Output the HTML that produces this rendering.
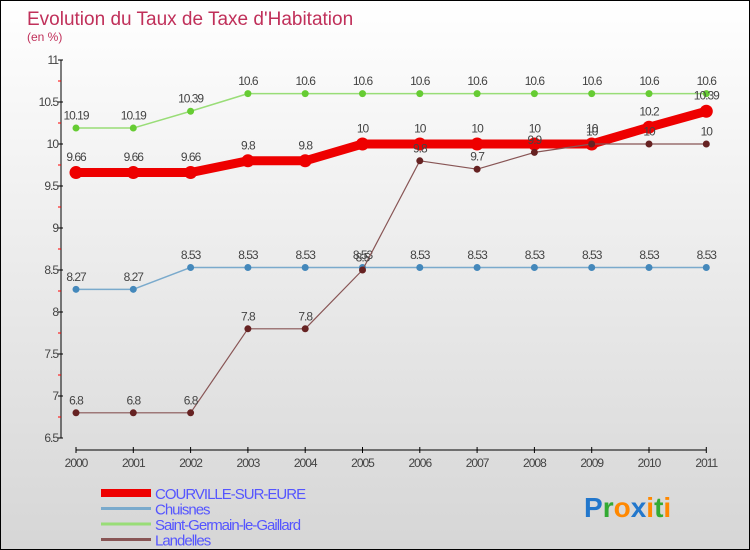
<!DOCTYPE html>
<html><head><meta charset="utf-8"><style>
body{margin:0}
#c{width:750px;height:550px;position:relative;box-sizing:border-box;border:1px solid #000;background:linear-gradient(#fff,#d6d6d6);font-family:"Liberation Sans",sans-serif;overflow:hidden}
</style></head><body>
<div id="c">
<svg id="s" width="748" height="548"></svg>
</div>
<script>
const years=[2000,2001,2002,2003,2004,2005,2006,2007,2008,2009,2010,2011];
const courville=[9.66,9.66,9.66,9.8,9.8,10,10,10,10,10,10.2,10.39];
const chuisnes=[8.27,8.27,8.53,8.53,8.53,8.53,8.53,8.53,8.53,8.53,8.53,8.53];
const stgermain=[10.19,10.19,10.39,10.6,10.6,10.6,10.6,10.6,10.6,10.6,10.6,10.6];
const landelles=[6.8,6.8,6.8,7.8,7.8,8.5,9.8,9.7,9.9,10,10,10];
const yTicks=[6.5,7,7.5,8,8.5,9,9.5,10,10.5,11];
const NS="http://www.w3.org/2000/svg";
const s=document.getElementById('s');
function X(i){return 75+i*57.3;}
function Y(v){return 59+(11-v)*84;}
function el(t,a,p){const e=document.createElementNS(NS,t);for(const k in a)e.setAttribute(k,a[k]);(p||s).appendChild(e);return e;}
let t=el('text',{x:26,y:24,'font-size':19,fill:'#c0305a'});t.textContent="Evolution du Taux de Taxe d'Habitation";

t=el('text',{x:26,y:40,'font-size':12,fill:'#c0305a'});t.textContent="(en %)";

// axes
let ax=el('g',{});
el('line',{x1:60,y1:Y(11),x2:60,y2:Y(6.5),stroke:'#000'},ax);
yTicks.forEach((v,i)=>{el('line',{x1:57,y1:Y(v),x2:62,y2:Y(v),stroke:'#000'},ax);
 if(i<yTicks.length-1)el('line',{x1:57,y1:Y(v+0.25),x2:60,y2:Y(v+0.25),stroke:'red'},ax);
 const tt=el('text',{x:57,y:Y(v)+4,'font-size':12,fill:'#444','text-anchor':'end','letter-spacing':'-1'},ax);tt.textContent=v;});
let xa=el('g',{});
el('line',{x1:X(0),y1:449,x2:X(11),y2:449,stroke:'#000'},xa);
years.forEach((y,i)=>{el('line',{x1:X(i),y1:446,x2:X(i),y2:452,stroke:'#000'},xa);
 const tt=el('text',{x:X(i),y:466,'font-size':12,fill:'#444','text-anchor':'middle','letter-spacing':'-1'},xa);tt.textContent=y;});
function series(data,color,w,r,name,dot){
 const g=el('g',{});
 el('polyline',{points:data.map((v,i)=>X(i)+','+Y(v)).join(' '),fill:'none',stroke:color,'stroke-width':w,'stroke-linejoin':'round'},g);
 data.forEach((v,i)=>{const c=el('circle',{cx:X(i),cy:Y(v),r:r,fill:dot},g);
  
  const tt=el('text',{x:X(i),y:Y(v)-(r+5),'font-size':12,fill:'#444','text-anchor':'middle','letter-spacing':'-1'},g);tt.textContent=v;});
}
series(stgermain,'#99dd77',1.5,3.5,'series-saint-germain','#66cc33');
series(chuisnes,'#7aaacc',1.5,3.5,'series-chuisnes','#4488bb');
series(courville,'#ee0000',9,6.5,'series-courville','#ee0000');
series(landelles,'#885555',1.2,3.5,'series-landelles','#662222');
// legend
const leg=[['COURVILLE-SUR-EURE','#ee0000',8],['Chuisnes','#7aaacc',3],['Saint-Germain-le-Gaillard','#99dd77',3],['Landelles','#885555',3]];
leg.forEach((l,i)=>{const g=el('g',{});
 const y=492+i*15.5;el('line',{x1:100,y1:y,x2:150,y2:y,stroke:l[1],'stroke-width':l[2]},g);
 const tt=el('text',{x:154,y:y+6,'font-size':15,fill:'#5555ff','letter-spacing':'-1'},g);tt.textContent=l[0];});
const lg=el('text',{x:583,y:516,'font-size':28,'font-weight':'bold'});
[['P','#2277cc'],['r','#33aa33'],['o','#ff8800'],['x','#2277cc'],['i','#ff8800'],['t','#33aa33'],['i','#ff8800']].forEach(c=>{const sp=el('tspan',{fill:c[1]},lg);sp.textContent=c[0];});
</script>
</body></html>
